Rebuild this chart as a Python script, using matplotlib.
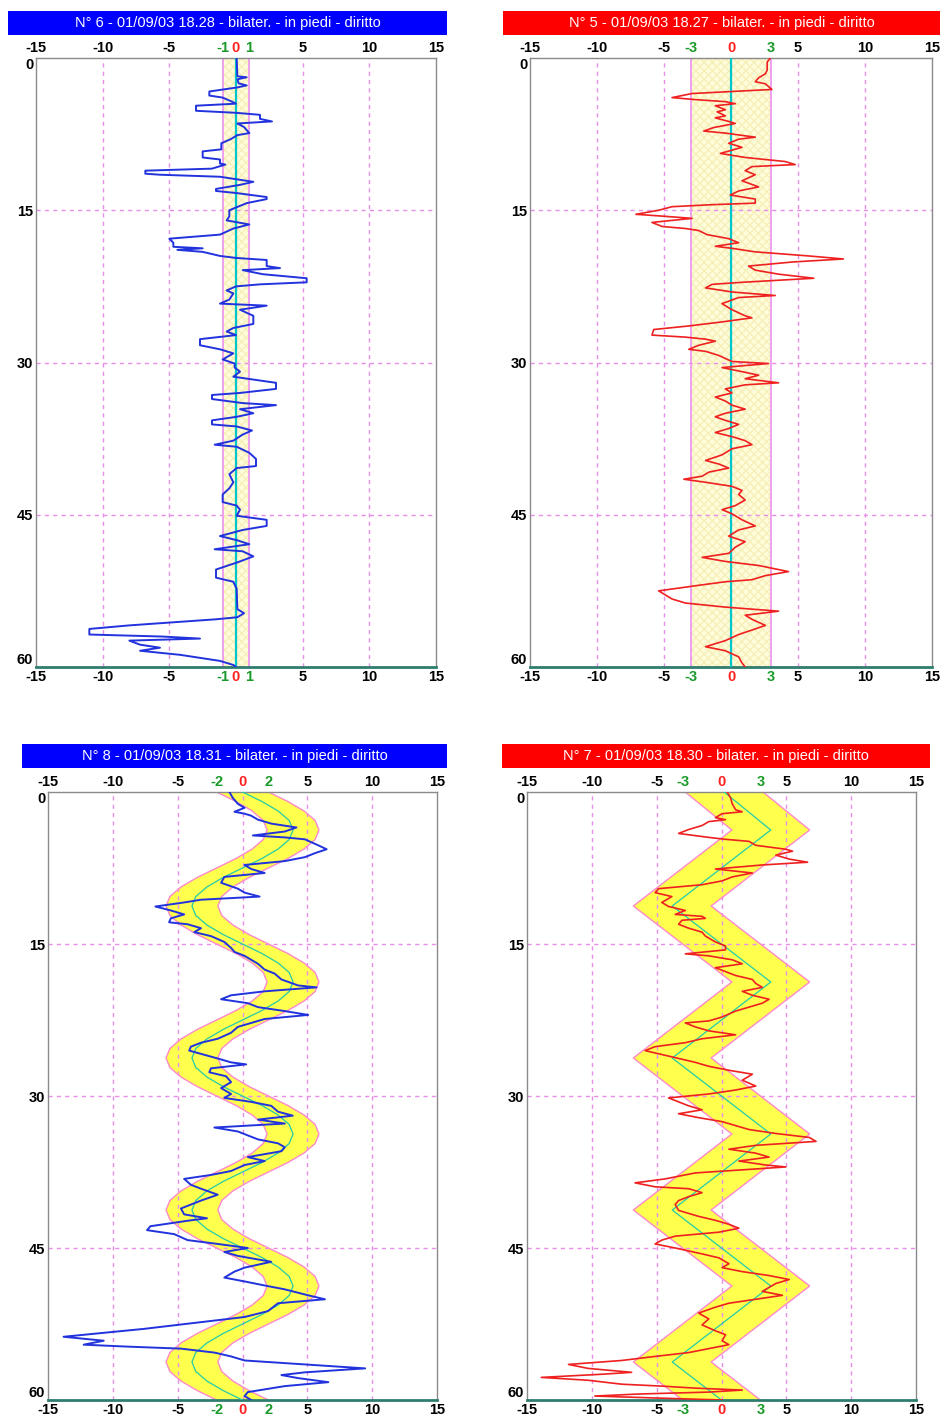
import numpy as np
import matplotlib
matplotlib.use('Agg')
from matplotlib import pyplot as plt
from matplotlib.patches import Rectangle

plt.rcParams['font.family'] = ['Liberation Sans', 'DejaVu Sans']

# panel titles and header colours
titles = ["N° 6 - 01/09/03 18.28 - bilater. - in piedi - diritto",
          "N° 5 - 01/09/03 18.27 - bilater. - in piedi - diritto",
          "N° 8 - 01/09/03 18.31 - bilater. - in piedi - diritto",
          "N° 7 - 01/09/03 18.30 - bilater. - in piedi - diritto"]
bar_colors = ['#0000ff', '#ff0000', '#0000ff', '#ff0000']
trace_colors = ['#2233dd', '#ee2020', '#2233dd', '#ee2020']
band_half = [1, 3, 2, 3]

x_ticks = [-15, -10, -5, 0, 5, 10, 15]
y_ticks = [0, 15, 30, 45, 60]

# reference path of N° 8 (sinusoidal), sampled every 0.9375
sine_depth = np.arange(0, 60.001, 0.9375)
sine_ref = [0, 1.5, 2.75, 3.6, 3.9, 3.6, 2.75, 1.5, 0, -1.5, -2.75, -3.6, -3.9, -3.6, -2.75, -1.5,
            0, 1.5, 2.75, 3.6, 3.9, 3.6, 2.75, 1.5, 0, -1.5, -2.75, -3.6, -3.9, -3.6, -2.75, -1.5,
            0, 1.5, 2.75, 3.6, 3.9, 3.6, 2.75, 1.5, 0, -1.5, -2.75, -3.6, -3.9, -3.6, -2.75, -1.5,
            0, 1.5, 2.75, 3.6, 3.9, 3.6, 2.75, 1.5, 0, -1.5, -2.75, -3.6, -3.9, -3.6, -2.75, -1.5,
            0]

# reference path of N° 7 (zig-zag)
zig_depth = [0, 3.75, 11.25, 18.75, 26.25, 33.75, 41.25, 48.75, 56.25, 60]
zig_ref = [0.2, 3.8, -3.8, 3.8, -3.8, 3.8, -3.8, 3.8, -3.8, 0.0]

# traces: (depth, sway)
trace6 = [(0, 0.05), (1.8, 0.1), (1.9, 0.8), (2.1, 0.1), (2.5, 0.2), (2.7, 0.8), (2.9, 0.1),
          (3.3, -2.0), (3.7, -2.0), (3.9, -1.0), (4.3, -0.3), (4.5, 0.0), (4.7, -3.0), (5.2, -3.0),
          (5.4, 0.0), (5.6, 1.8), (6.0, 1.8), (6.25, 2.7), (6.45, 0.1), (6.8, 0.6), (7.4, 1.0),
          (7.6, 0.1), (8.0, -0.4), (8.4, -1.1), (9.0, -1.1), (9.2, -2.5), (9.8, -2.5), (10.0, -1.2),
          (10.4, -1.2), (10.5, -0.8), (10.9, -1.8), (11.1, -6.8), (11.4, -6.8), (11.5, -5.7),
          (11.7, -1.2), (11.9, -0.2), (12.2, 1.3), (12.5, 0.3), (12.9, -1.5), (13.1, -1.5),
          (13.3, 0.0), (13.7, 2.3), (13.9, 2.3), (14.3, 0.8), (15.0, -0.5), (15.6, -0.5),
          (16.0, -0.7), (16.4, 1.0), (16.8, -0.2), (17.4, -1.2), (17.8, -5.0), (18.2, -4.7),
          (18.6, -4.7), (18.75, -2.5), (18.9, -4.4), (19.1, -2.5), (19.5, -1.2), (19.7, 0.0),
          (19.9, 2.3), (20.5, 2.3), (20.7, 3.3), (20.9, 0.5), (21.3, 2.0), (21.7, 5.3), (22.1, 5.3),
          (22.3, 1.8), (22.5, 0.0), (22.9, -0.7), (23.2, -0.2), (23.8, -0.5), (24.2, -1.2),
          (24.4, 2.3), (24.8, 0.3), (25.4, 1.3), (26.2, 1.3), (26.6, -0.2), (26.95, -0.7),
          (27.3, 0.0), (27.7, -2.7), (28.3, -2.7), (28.7, -1.2), (29.1, -0.2), (29.7, -1.0),
          (30.1, -0.1), (30.5, -0.1), (30.9, 0.3), (31.4, -0.2), (32.0, 3.0), (32.6, 3.0),
          (33.0, 0.3), (33.2, -1.8), (33.6, -1.8), (34.0, 0.5), (34.2, 3.0), (34.6, 0.3),
          (35.0, 1.3), (35.35, 0.05), (35.7, -1.8), (36.1, -1.8), (36.3, 0.05), (36.7, 1.2),
          (37.1, 0.5), (37.7, -0.2), (38.1, -1.6), (38.3, 0.05), (38.9, 1.0), (39.5, 1.5),
          (40.2, 1.5), (40.4, 0.05), (41.0, -0.5), (41.8, -0.2), (42.4, -0.5), (43.0, -1.0),
          (43.75, -1.0), (44.1, 0.05), (44.5, 0.3), (45.1, 0.05), (45.5, 2.3), (46.1, 2.3),
          (46.5, 0.5), (47.1, -1.2), (47.5, 0.05), (47.9, 1.0), (48.4, -1.6), (48.6, 0.5),
          (49.1, 1.3), (49.6, 0.3), (50.4, -1.5), (51.2, -1.5), (51.6, -0.2), (52.3, 0.05),
          (54.3, 0.1), (54.7, 0.6), (55.1, 0.1), (55.3, -1.5), (55.9, -8.0), (56.25, -11.0),
          (56.8, -11.0), (57.0, -5.5), (57.2, -2.7), (57.4, -8.0), (57.8, -7.2), (58.1, -5.7),
          (58.4, -7.2), (58.8, -4.2), (59.4, -1.2), (59.8, -0.2), (60, 0.0)]

trace5 = [(0, 2.94), (0.4, 2.7), (1.2, 2.7), (1.56, 2.56), (1.95, 2.06), (2.34, 1.81), (2.54, 2.56),
          (3.1, 3.05), (3.3, 0.07), (3.5, -2.9), (3.9, -4.4), (4.1, -2.65), (4.3, -0.42), (4.5, 0.32),
          (4.7, -1.17), (5.1, -0.42), (5.3, -1.04), (5.7, -0.42), (5.9, -1.17), (6.25, -0.17),
          (6.45, 0.32), (6.85, -1.29), (7.2, -2.03), (7.4, -0.42), (7.8, 1.81), (8.0, 0.57),
          (8.4, -0.17), (8.8, 0.82), (9.4, -0.79), (9.8, 1.06), (10.2, 4.04), (10.5, 4.79),
          (10.7, 1.56), (11.1, 1.06), (11.5, 1.81), (12.1, 0.82), (12.7, 2.06), (13.1, 0.57),
          (13.5, -0.05), (13.9, 1.81), (14.3, 1.81), (14.45, -1.41), (14.65, -4.4), (15.0, -5.4),
          (15.4, -7.1), (15.6, -4.9), (15.8, -2.9), (16.2, -5.9), (16.6, -5.14), (16.8, -3.4),
          (17.0, -2.4), (17.4, -1.79), (17.8, -0.17), (18.2, 0.57), (18.55, -1.17), (18.75, 0.07),
          (19.1, 1.81), (19.5, 5.78), (19.8, 8.39), (20.1, 4.57), (20.5, 1.31), (20.9, 1.81),
          (21.3, 3.57), (21.7, 6.18), (22.1, 0.82), (22.3, -1.41), (22.65, -1.9), (23.05, 0.07),
          (23.4, 3.3), (23.6, 0.57), (24.2, -0.67), (24.8, 0.07), (25.4, 1.06), (25.6, 1.56),
          (26.0, -0.67), (26.4, -3.15), (26.75, -5.76), (27.3, -5.9), (27.5, -3.4), (27.7, -1.9),
          (27.9, -1.17), (28.3, -2.4), (28.7, -3.15), (28.9, -1.9), (29.3, -0.92), (29.9, 0.07),
          (30.1, 2.8), (30.5, -0.67), (30.9, 0.82), (31.25, 2.06), (31.6, 1.06), (32.0, 3.55),
          (32.2, 1.06), (32.6, -0.42), (33.0, 0.07), (33.4, -1.17), (33.8, -0.42), (34.2, 0.07),
          (34.6, 1.06), (35.0, -0.42), (35.35, -1.17), (35.7, -0.42), (36.1, 0.57), (36.5, -0.17),
          (36.9, -1.17), (37.3, 0.07), (37.7, 1.06), (38.1, 1.56), (38.5, 0.07), (39.1, -0.67),
          (39.65, -1.9), (40.0, -0.92), (40.4, -0.17), (40.8, -1.65), (41.2, -2.15), (41.5, -3.52),
          (41.8, -1.9), (42.2, 0.07), (42.6, 0.82), (43.0, 0.57), (43.55, 1.06), (44.1, 0.32),
          (44.5, -0.67), (44.9, 0.07), (45.5, 0.82), (46.1, 1.81), (46.5, 0.57), (47.1, -0.17),
          (47.65, 1.06), (48.2, 0.32), (48.8, -0.17), (49.2, -2.15), (49.6, -0.42), (50.0, 2.06),
          (50.6, 4.29), (51.0, 2.56), (51.4, 1.56), (51.6, -0.42), (51.95, -2.4), (52.5, -5.4),
          (52.9, -4.9), (53.3, -4.4), (53.7, -3.4), (54.1, -0.42), (54.5, 3.55), (54.9, 1.06),
          (55.3, 1.56), (55.9, 2.56), (56.25, 1.81), (56.8, 0.57), (57.4, -0.42), (58.0, -1.9),
          (58.4, -0.42), (59.0, 0.57), (59.6, 0.82), (60.0, 1.06)]

trace8 = [(0, -1.01), (0.58, -0.75), (1.17, -0.36), (1.56, 0.16), (1.95, -0.62), (2.14, 0.16),
          (2.34, 0.67), (2.73, 1.19), (3.12, 2.22), (3.5, 4.16), (3.9, 3.26), (4.29, 0.8),
          (4.48, 3.26), (4.67, 4.81), (5.26, 5.84), (5.65, 6.49), (6.04, 5.58), (6.43, 4.81),
          (6.82, 3.26), (7.2, 0.16), (7.6, 0.67), (7.99, 1.71), (8.38, -1.4), (8.96, -1.65),
          (9.54, -0.36), (9.93, 0.16), (10.32, 1.32), (10.63, -3.2), (10.9, -4.5), (11.3, -6.72),
          (11.69, -5.53), (12.08, -4.5), (12.47, -5.53), (12.86, -5.66), (13.05, -4.24),
          (13.44, -3.2), (13.83, -3.72), (14.22, -2.43), (14.8, -1.4), (15.39, -0.88),
          (15.78, -0.62), (16.17, 0.16), (16.95, 1.19), (17.53, 1.71), (17.92, 2.48), (18.5, 3.0),
          (19.09, 4.29), (19.28, 5.71), (19.67, 1.71), (20.06, -0.88), (20.45, -1.65),
          (20.84, 0.41), (21.23, 1.19), (21.62, 3.26), (22.0, 5.07), (22.4, 1.71), (22.79, 0.67),
          (23.18, -0.36), (23.76, -0.88), (24.35, -1.91), (24.74, -3.2), (25.13, -3.98),
          (25.52, -4.11), (26.3, -1.91), (26.68, -0.88), (26.88, 0.28), (27.27, -2.43),
          (27.66, -2.56), (28.05, -1.27), (28.63, -0.88), (29.22, -1.65), (29.8, -0.88),
          (30.19, -1.4), (30.58, 0.67), (30.97, 2.22), (31.55, 2.74), (31.94, 3.88), (32.33, 1.19),
          (32.72, 3.26), (33.11, -2.17), (33.5, -0.36), (33.89, 0.41), (34.28, 1.19), (34.67, 2.74),
          (35.06, 3.26), (35.45, 3.0), (36.03, 0.41), (36.42, 1.71), (36.81, 0.16), (37.4, -0.88),
          (37.79, -2.43), (38.18, -4.5), (38.76, -3.98), (39.15, -3.2), (39.74, -1.91),
          (40.32, -3.2), (41.1, -4.75), (41.68, -4.5), (42.07, -2.74), (42.27, -4.0), (42.85, -7.1),
          (43.24, -7.36), (43.63, -5.27), (44.22, -4.24), (44.6, -1.91), (45.0, 0.41),
          (45.39, -1.4), (45.78, -0.36), (46.36, 2.22), (46.94, 0.16), (47.33, -0.62),
          (47.92, -1.4), (48.3, 0.16), (48.7, 1.71), (49.08, 3.26), (49.67, 5.07), (50.06, 6.36),
          (50.45, 2.74), (51.23, 1.96), (51.81, 0.16), (52.2, -2.43), (52.98, -7.6),
          (53.76, -13.8), (54.15, -10.7), (54.54, -12.25), (54.73, -8.9), (54.93, -4.75),
          (55.32, -2.17), (55.7, -0.88), (56.1, 0.16), (56.49, 4.81), (56.88, 9.46), (57.27, 4.81),
          (57.54, 3.0), (57.84, 4.29), (58.24, 6.62), (58.63, 3.26), (59.22, 0.41), (59.61, 0.16),
          (60.0, 0.67)]

trace7 = [(0, 0.44), (0.58, 0.7), (1.17, 0.83), (1.75, 1.09), (1.95, 1.6), (2.14, 0.05),
          (2.53, -0.47), (2.73, 0.31), (2.92, -0.98), (3.31, -1.5), (3.7, -2.53), (4.09, -3.31),
          (4.48, -0.98), (4.67, 0.31), (4.87, 2.12), (5.26, 2.64), (5.65, 4.96), (5.84, 5.48),
          (6.23, 4.19), (6.62, 5.22), (6.93, 6.64), (7.2, 3.15), (7.6, -0.47), (7.99, 2.38),
          (8.38, 0.83), (8.77, 0.05), (9.15, -1.5), (9.54, -4.86), (9.93, -5.12), (10.32, -3.83),
          (10.9, -4.6), (11.3, -4.08), (11.69, -2.79), (12.08, -3.57), (12.27, -1.5),
          (12.47, -1.24), (12.66, -3.05), (13.05, -3.31), (13.44, -2.53), (13.83, -1.5),
          (14.22, -1.24), (14.8, -0.47), (15.19, 0.31), (15.58, 0.31), (15.97, -2.79),
          (16.17, -0.98), (16.56, 0.83), (16.95, 1.6), (17.34, -0.47), (17.73, 0.31), (18.11, 1.09),
          (18.5, 2.38), (18.89, 2.64), (19.28, 3.15), (19.67, 1.6), (20.06, 2.38), (20.45, 3.67),
          (20.84, 3.15), (21.23, 2.12), (21.62, 1.09), (22.2, 0.05), (22.59, -0.98), (22.79, -2.79),
          (23.18, -2.02), (23.57, -0.98), (23.96, 1.09), (24.35, -1.5), (24.74, -2.79),
          (25.13, -5.12), (25.52, -5.89), (25.91, -4.6), (26.3, -3.31), (26.68, -2.02),
          (27.07, -0.98), (27.46, 0.57), (27.85, 2.38), (28.44, 1.6), (29.02, 2.64), (29.41, 1.09),
          (29.8, -0.98), (30.19, -4.08), (30.58, -3.31), (30.97, -2.53), (31.36, -1.5),
          (31.75, -3.31), (32.14, -1.76), (32.53, 0.05), (32.92, 1.09), (33.31, 2.12), (33.7, 4.19),
          (34.09, 6.77), (34.48, 7.29), (34.87, 2.64), (35.25, 0.57), (35.64, 2.64), (36.03, 3.67),
          (36.42, 1.34), (36.81, 3.41), (37.0, 4.96), (37.2, 2.64), (37.59, -2.02), (38.18, -4.34),
          (38.57, -6.67), (38.96, -5.12), (39.15, -2.53), (39.54, -1.5), (39.93, -2.53),
          (40.32, -3.31), (40.71, -3.57), (41.29, -3.31), (41.88, -1.76), (42.27, -0.47),
          (42.66, 0.57), (43.05, 1.34), (43.44, -0.21), (43.83, -3.57), (44.22, -4.6),
          (44.6, -5.12), (45.0, -3.57), (45.58, -1.5), (45.97, -0.21), (46.55, 0.57), (46.94, 0.05),
          (47.33, 1.6), (47.72, 3.67), (48.11, 5.22), (48.5, 4.19), (48.89, 3.67), (49.28, 3.15),
          (49.67, 4.7), (50.06, 2.64), (50.45, 0.57), (50.84, -0.47), (51.42, -1.76), (52.0, -0.98),
          (52.59, -1.5), (53.17, -0.47), (53.56, 0.31), (54.15, 0.05), (54.54, 0.57), (54.93, -0.98),
          (55.32, -2.53), (55.7, -5.12), (56.1, -7.7), (56.49, -11.8), (56.88, -10.3),
          (57.27, -6.93), (57.46, -9.25), (57.77, -13.9), (58.05, -10.3), (58.44, -7.7),
          (58.63, -4.6), (58.83, -2.02), (59.02, 1.6), (59.22, -0.98), (59.41, -6.41),
          (59.61, -9.77), (59.8, -5.12), (60.0, 0.05)]

fig = plt.figure(figsize=(9.4, 14.21), dpi=100)
W, H = 940.0, 1421.0


def px_rect(x0, y0, x1, y1):
    # pixel box (top-left origin) -> figure fraction rect
    return [x0 / W, 1 - y1 / H, (x1 - x0) / W, (y1 - y0) / H]


def draw_panel(i, ax_box, bar_box, ref_depth, ref_x, trace, flat_band):
    r = px_rect(*bar_box)
    fig.patches.append(Rectangle((r[0], r[1]), r[2], r[3], transform=fig.transFigure,
                                 facecolor=bar_colors[i], edgecolor='none'))
    fig.text(r[0] + r[2] / 2, r[1] + r[3] / 2, titles[i], color='white', fontsize=10.5,
             ha='center', va='center')

    ax = fig.add_axes(px_rect(*ax_box))
    b = band_half[i]
    ref_depth = np.asarray(ref_depth, dtype=float)
    ref_x = np.asarray(ref_x, dtype=float)
    if flat_band:
        ax.fill_betweenx(ref_depth, ref_x - b, ref_x + b, facecolor='#fffcdc',
                         hatch='xxxx', edgecolor='#f7efb8', linewidth=0, zorder=1)
        edge_col, edge_lw = '#ee99ee', 1.3
    else:
        ax.fill_betweenx(ref_depth, ref_x - b, ref_x + b, facecolor='#ffff4d',
                         edgecolor='none', zorder=1)
        edge_col, edge_lw = '#ff88cc', 1.0
    ax.plot(ref_x - b, ref_depth, color=edge_col, lw=edge_lw, zorder=2)
    ax.plot(ref_x + b, ref_depth, color=edge_col, lw=edge_lw, zorder=2)

    # grid
    for gx in [-10, -5, 0, 5, 10]:
        ax.axvline(gx, color='#e88ee8', lw=1, ls=(0, (3, 3)), zorder=1.5)
    for gy in [15, 30, 45]:
        ax.axhline(gy, color='#e88ee8', lw=1, ls=(0, (3, 3)), zorder=1.5)

    if flat_band:
        ax.plot(ref_x, ref_depth, color='#00c8c8', lw=1.6, zorder=3)
    else:
        ax.plot(ref_x, ref_depth, color='#22ccaa', lw=0.9, zorder=3)

    d = [p[0] for p in trace]
    s = [p[1] for p in trace]
    ax.plot(s, d, color=trace_colors[i], lw=1.4 if i % 2 == 0 else 1.2, zorder=4)

    ax.set_xlim(-15, 15)
    ax.set_ylim(60, 0)

    ticks = [-15, -10, -5, -b, 0, b, 5, 10, 15]
    cols = ['black', 'black', 'black', '#1a9a2a', '#ff2020', '#1a9a2a', 'black', 'black', 'black']
    ax.set_xticks(ticks, labels=[str(t) for t in ticks])
    ax.tick_params(axis='x', top=True, labeltop=True, bottom=True, labelbottom=True,
                   length=0, pad=2, labelsize=10.5)
    for t, c in zip(ax.xaxis.get_major_ticks(), cols):
        for lab in (t.label1, t.label2):
            lab.set_color(c)
            lab.set_fontweight('bold')
    ax.set_yticks(y_ticks, labels=[str(v) for v in y_ticks])
    ax.tick_params(axis='y', length=0, pad=2, labelsize=10.5)
    ylabs = ax.get_yticklabels()
    for lab in ylabs:
        lab.set_fontweight('bold')
    ylabs[0].set_va('top')
    ylabs[-1].set_va('bottom')

    for side in ['top', 'left', 'right']:
        ax.spines[side].set_color('#8a8a8a')
        ax.spines[side].set_linewidth(1)
    ax.spines['bottom'].set_color('#2e7d6e')
    ax.spines['bottom'].set_linewidth(2)
    return ax


flat_depth = [0, 60]
draw_panel(0, (36, 58, 436, 667), (8, 11, 447, 35), flat_depth, [0, 0], trace6, True)
draw_panel(1, (530, 58, 932, 667), (503, 11, 940, 35), flat_depth, [0, 0], trace5, True)
draw_panel(2, (48, 792, 437, 1400), (22, 744, 447, 768), sine_depth, sine_ref, trace8, False)
draw_panel(3, (527, 792, 916, 1400), (502, 744, 930, 768), zig_depth, zig_ref, trace7, False)

plt.savefig('out.png', dpi=100)
